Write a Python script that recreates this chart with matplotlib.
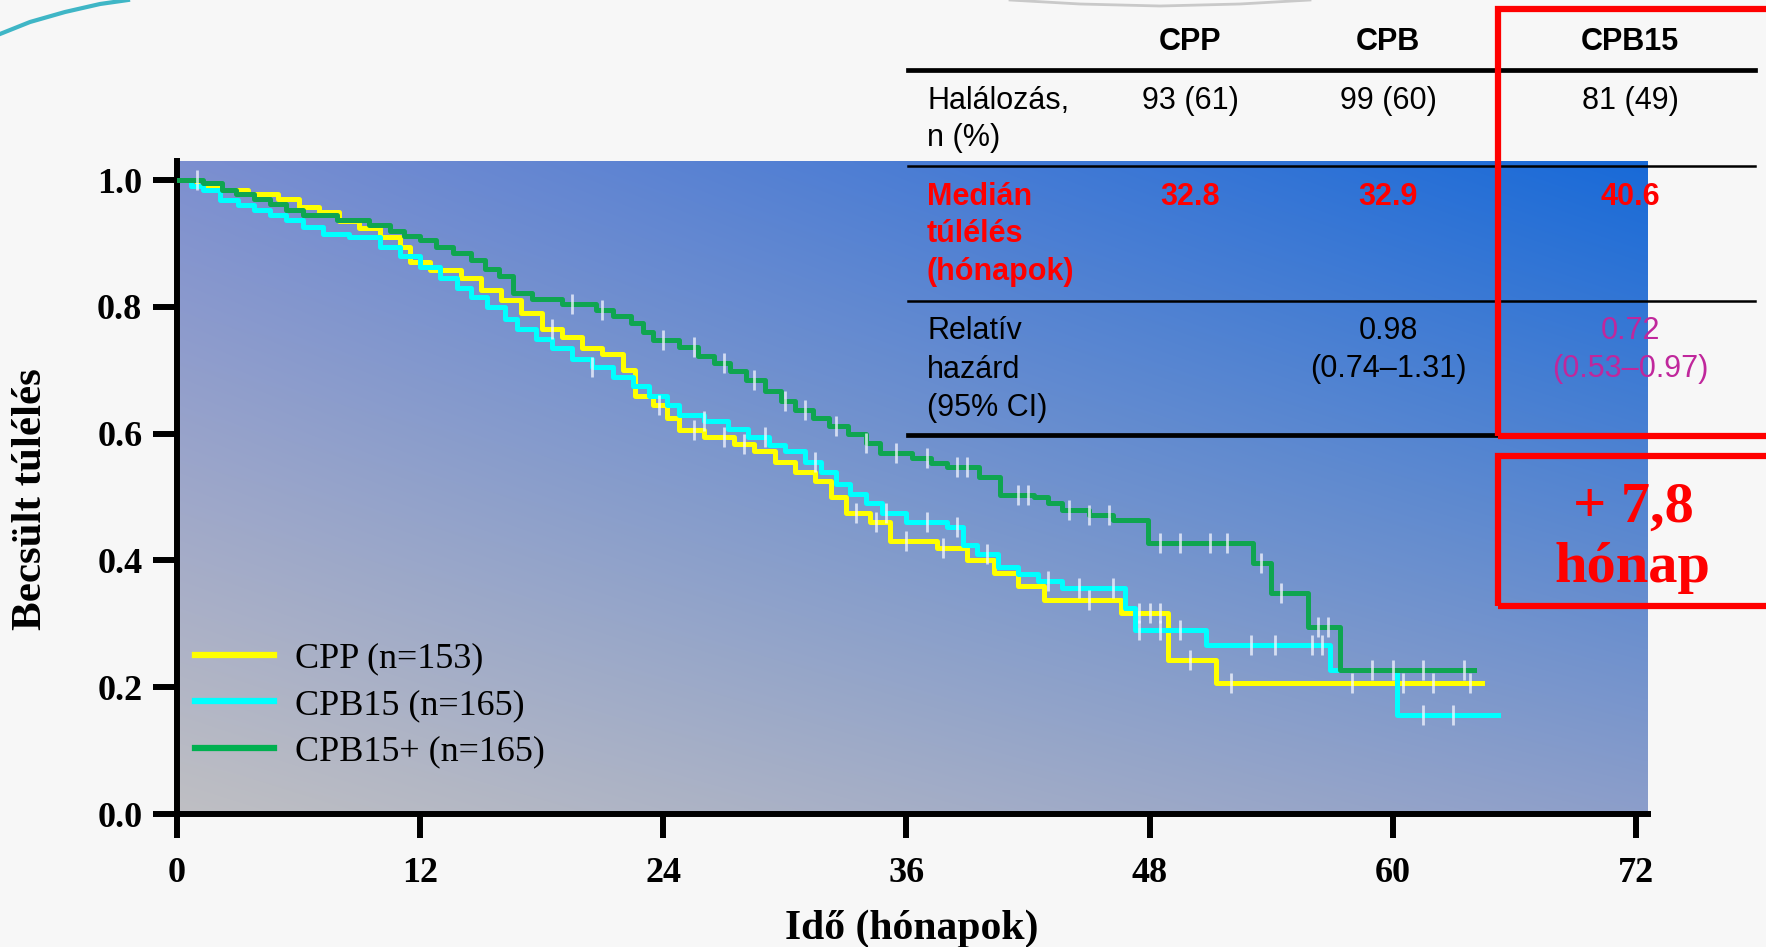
import numpy as np
import matplotlib
matplotlib.use("Agg")
import matplotlib.pyplot as plt
from matplotlib.lines import Line2D
from matplotlib.patches import Rectangle

W, H = 1766, 947

# ---------------- data ----------------
x_ticks = [0, 12, 24, 36, 48, 60, 72]
y_ticks = [0.0, 0.2, 0.4, 0.6, 0.8, 1.0]

cpp_t = [0, 1.0, 2.0, 3.5, 5.0, 6.0, 7.0, 8.0, 9.0, 10.0, 11.0, 11.5, 12.5, 14.0, 15.0,
         16.0, 17.0, 18.0, 19.0, 20.0, 21.0, 22.0, 22.6, 23.5, 24.2, 24.8, 26.0, 27.5,
         28.5, 29.5, 30.5, 31.5, 32.3, 33.0, 34.2, 35.2, 37.5, 39.0, 40.3, 41.5, 42.8,
         46.6, 48.9, 51.3]
cpp_s = [1.0, 0.99, 0.984, 0.978, 0.97, 0.958, 0.95, 0.935, 0.925, 0.91, 0.895, 0.87,
         0.858, 0.845, 0.826, 0.81, 0.79, 0.765, 0.752, 0.735, 0.725, 0.70, 0.66, 0.645,
         0.625, 0.605, 0.595, 0.583, 0.572, 0.555, 0.54, 0.525, 0.50, 0.475, 0.46, 0.43,
         0.42, 0.40, 0.38, 0.36, 0.337, 0.317, 0.243, 0.207]
cpp_end = 64.4
cpp_cens = [18.5, 23.8, 25.5, 27.0, 28.0, 33.5, 34.5, 36.0, 37.8, 45.0, 47.5, 48.0,
            48.5, 50.0, 52.0, 58.0, 60.5, 62.0, 63.8]

cpb15_t = [0, 0.7, 1.3, 2.1, 3.0, 3.8, 4.6, 5.4, 6.2, 7.2, 8.5, 10.0, 11.0, 12.0, 13.0,
           13.8, 14.5, 15.3, 16.2, 16.8, 17.7, 18.5, 19.5, 20.5, 21.5, 22.5, 23.3, 24.2,
           24.8, 26.0, 27.2, 28.2, 29.2, 30.0, 31.0, 31.8, 32.5, 33.2, 34.0, 34.8, 36.0,
           38.0, 38.8, 39.5, 40.5, 41.5, 42.5, 43.7, 46.8, 47.3, 50.8, 56.9, 60.2]
cpb15_s = [1.0, 0.99, 0.984, 0.968, 0.96, 0.953, 0.945, 0.937, 0.926, 0.915, 0.91, 0.895,
           0.88, 0.863, 0.845, 0.83, 0.815, 0.80, 0.78, 0.765, 0.75, 0.735, 0.718, 0.705,
           0.69, 0.675, 0.66, 0.645, 0.63, 0.62, 0.608, 0.595, 0.582, 0.572, 0.555, 0.54,
           0.52, 0.505, 0.49, 0.474, 0.46, 0.453, 0.425, 0.41, 0.39, 0.378, 0.368, 0.357,
           0.325, 0.29, 0.267, 0.227, 0.156]
cpb15_end = 65.2
cpb15_cens = [20.5, 26.0, 29.0, 31.5, 35.0, 37.0, 38.5, 40.0, 43.0, 44.5, 46.2, 47.5,
              48.5, 49.5, 53.0, 54.2, 56.0, 56.5, 61.5, 63.0]

cpb15p_t = [0, 1.3, 2.2, 2.9, 3.8, 4.6, 5.4, 6.2, 7.9, 9.5, 10.5, 11.2, 12.0, 12.8, 13.6,
            14.5, 15.2, 15.9, 16.6, 17.5, 19.0, 20.7, 21.5, 22.4, 23.0, 23.5, 24.8, 25.7,
            26.5, 27.3, 28.1, 29.0, 29.8, 30.5, 31.4, 32.2, 33.1, 34.0, 34.7, 36.3, 37.2,
            38.0, 39.6, 40.6, 42.3, 43.0, 43.7, 45.0, 46.2, 47.9, 53.1, 54.0, 55.8, 57.4]
cpb15p_s = [1.0, 0.995, 0.985, 0.978, 0.97, 0.962, 0.953, 0.945, 0.937, 0.929, 0.92, 0.912,
            0.905, 0.895, 0.885, 0.874, 0.86, 0.848, 0.822, 0.812, 0.805, 0.795, 0.785,
            0.774, 0.76, 0.748, 0.737, 0.722, 0.711, 0.698, 0.685, 0.668, 0.652, 0.638,
            0.624, 0.612, 0.60, 0.585, 0.569, 0.561, 0.554, 0.547, 0.532, 0.503, 0.50,
            0.49, 0.48, 0.472, 0.464, 0.427, 0.396, 0.349, 0.295, 0.227]
cpb15p_end = 64.0
cpb15p_cens = [1.0, 19.5, 21.0, 24.0, 25.5, 27.0, 28.5, 30.0, 31.0, 32.5, 34.0, 35.5,
               37.0, 38.5, 39.0, 41.5, 42.0, 44.0, 45.0, 46.0, 48.5, 49.5, 51.0, 51.8,
               53.5, 54.5, 56.3, 56.8, 59.0, 60.0, 61.5, 63.5]

legend_labels = ["CPP (n=153)", "CPB15 (n=165)", "CPB15+ (n=165)"]

table_cols = ["CPP", "CPB", "CPB15"]
row1_label = ["Halálozás,", "n (%)"]
row1_vals = ["93 (61)", "99 (60)", "81 (49)"]
row2_label = ["Medián", "túlélés", "(hónapok)"]
row2_vals = ["32.8", "32.9", "40.6"]
row3_label = ["Relatív", "hazárd", "(95% CI)"]
row3_vals = ["", "0.98", "0.72"]
row3_ci = ["", "(0.74–1.31)", "(0.53–0.97)"]
gain_text = ["+ 7,8", "hónap"]

# ---------------- figure ----------------
SERIF = ["Liberation Serif", "DejaVu Serif"]
SANS = ["Liberation Sans", "DejaVu Sans"]
plt.rcParams["font.family"] = SERIF

fig = plt.figure(figsize=(W / 100, H / 100), dpi=100, facecolor="#f7f7f7")

def px(x, y):
    return x / W, 1 - y / H

ax = fig.add_axes([177 / W, 1 - 814 / H, (1648 - 177) / W, (814 - 161) / H])
XMAX, YMAX = 72.6, 1.03

# gradient background
nx, ny = 240, 120
u = np.linspace(0, 1, nx)[None, :, None]
v = np.linspace(0, 1, ny)[:, None, None]
BL = np.array([191, 191, 195]) / 255
BR = np.array([140, 158, 202]) / 255
TL = np.array([124, 143, 208]) / 255
TR = np.array([24, 106, 216]) / 255
img = BL * (1 - u) * (1 - v) + BR * u * (1 - v) + TL * (1 - u) * v + TR * u * v
ax.imshow(np.clip(img, 0, 1), extent=[0, XMAX, 0, YMAX], origin="lower",
          aspect="auto", zorder=0, interpolation="bilinear")

series = [
    (cpp_t, cpp_s, cpp_end, cpp_cens, "#ffff00"),
    (cpb15_t, cpb15_s, cpb15_end, cpb15_cens, "#00ffff"),
    (cpb15p_t, cpb15p_s, cpb15p_end, cpb15p_cens, "#0fa550"),
]
for t, s, end, cens, col in series:
    t = np.asarray(t); s = np.asarray(s)
    tt = np.append(t, end)
    ss = np.append(s, s[-1])
    ax.plot(tt, ss, drawstyle="steps-post", color=col, lw=3.6, zorder=3)
    idx = np.searchsorted(t, cens, side="right") - 1
    ax.plot(cens, s[idx], ls="none", marker="|", ms=14, mew=2.0,
            color="#f4f6ff", alpha=0.75, zorder=4)

ax.set_xlim(0, XMAX)
ax.set_ylim(0, YMAX)
ax.set_xticks(x_ticks, labels=[str(v) for v in x_ticks])
ax.set_yticks(y_ticks, labels=[f"{v:.1f}" for v in y_ticks])
for side in ["top", "right"]:
    ax.spines[side].set_visible(False)
for side in ["left", "bottom"]:
    ax.spines[side].set_linewidth(4.3)
    ax.spines[side].set_color("black")
ax.tick_params(direction="out", length=17, width=4.3, labelsize=26, colors="black")
ax.tick_params(axis="x", pad=14)
ax.tick_params(axis="y", pad=8)
for lbl in ax.get_xticklabels() + ax.get_yticklabels():
    lbl.set_fontweight("bold")

# legend
leg_handles = [Line2D([], [], color=c, lw=4.5) for c in ["#ffff00", "#00ffff", "#00b050"]]
leg = ax.legend(leg_handles, legend_labels, loc="lower left",
                bbox_to_anchor=(0.012, 0.07), frameon=False, fontsize=26,
                handlelength=2.2, handletextpad=0.58, labelspacing=0.36,
                borderpad=0, borderaxespad=0)

# axis labels
fig.text(*px(912, 929), "Idő (hónapok)", ha="center", va="center",
         fontsize=30, fontweight="bold")
fig.text(*px(31, 499), "Becsült túlélés", ha="center", va="center",
         rotation=90, fontsize=31, fontweight="bold")

# ---------------- table ----------------
def ftext(x, y, s, **kw):
    kw.setdefault("family", SANS)
    kw.setdefault("fontsize", 22)
    kw.setdefault("va", "center")
    fig.text(*px(x, y), s, zorder=5, **kw)

def fline(x0, x1, y, lw):
    fig.add_artist(Line2D([x0 / W, x1 / W], [1 - y / H, 1 - y / H],
                          transform=fig.transFigure, color="black", lw=lw, zorder=5))

col_x = [1190, 1388, 1630]
for cx, name in zip(col_x, table_cols):
    ftext(cx, 42, name, ha="center", fontweight="bold")
fline(908, 1755, 70, 3.4)

for i, line in enumerate(row1_label):
    ftext(927, 101 + i * 37, line, ha="left")
for cx, val in zip(col_x, row1_vals):
    ftext(cx, 101, val, ha="center")
fline(908, 1755, 166, 1.8)

for i, line in enumerate(row2_label):
    ftext(927, 197 + i * 37.5, line, ha="left", color="#ff0000", fontweight="bold")
for cx, val in zip(col_x, row2_vals):
    ftext(cx, 197, val, ha="center", color="#ff0000", fontweight="bold")
fline(908, 1755, 301, 1.8)

for i, line in enumerate(row3_label):
    ftext(927, 331 + i * 38.5, line, ha="left")
hr_colors = ["black", "black", "#c0279c"]
for cx, val, ci, c in zip(col_x, row3_vals, row3_ci, hr_colors):
    if val:
        ftext(cx, 331, val, ha="center", color=c)
        ftext(cx, 369, ci, ha="center", color=c)
fline(908, 1498, 435, 3.4)

# red highlight boxes
fig.add_artist(Rectangle(px(1498, 436), (1820 - 1498) / W, (436 - 9) / H,
                         transform=fig.transFigure, fill=False, ec="#ff0000",
                         lw=4.5, zorder=6))
fig.add_artist(Rectangle(px(1498, 606), (1820 - 1498) / W, (606 - 456) / H,
                         transform=fig.transFigure, fill=False, ec="#ff0000",
                         lw=4.5, zorder=6))
fig.text(*px(1633, 508), gain_text[0], ha="center", va="center", color="#ff0000",
         fontsize=42, fontweight="bold", zorder=6)
fig.text(*px(1633, 568), gain_text[1], ha="center", va="center", color="#ff0000",
         fontsize=42, fontweight="bold", zorder=6)

# slide decorations
fig.add_artist(Line2D(np.array([0, 30, 65, 100, 128]) / W,
                      1 - np.array([34, 22, 12, 4, 0]) / H,
                      transform=fig.transFigure, color="#3fb6c6", lw=3, zorder=1))
fig.add_artist(Line2D(np.array([1010, 1080, 1160, 1240, 1310]) / W,
                      1 - np.array([0, 4, 6, 4, 0]) / H,
                      transform=fig.transFigure, color="#c9c9c9", lw=2, zorder=1))

fig.savefig("out.png", dpi=100, facecolor=fig.get_facecolor())
